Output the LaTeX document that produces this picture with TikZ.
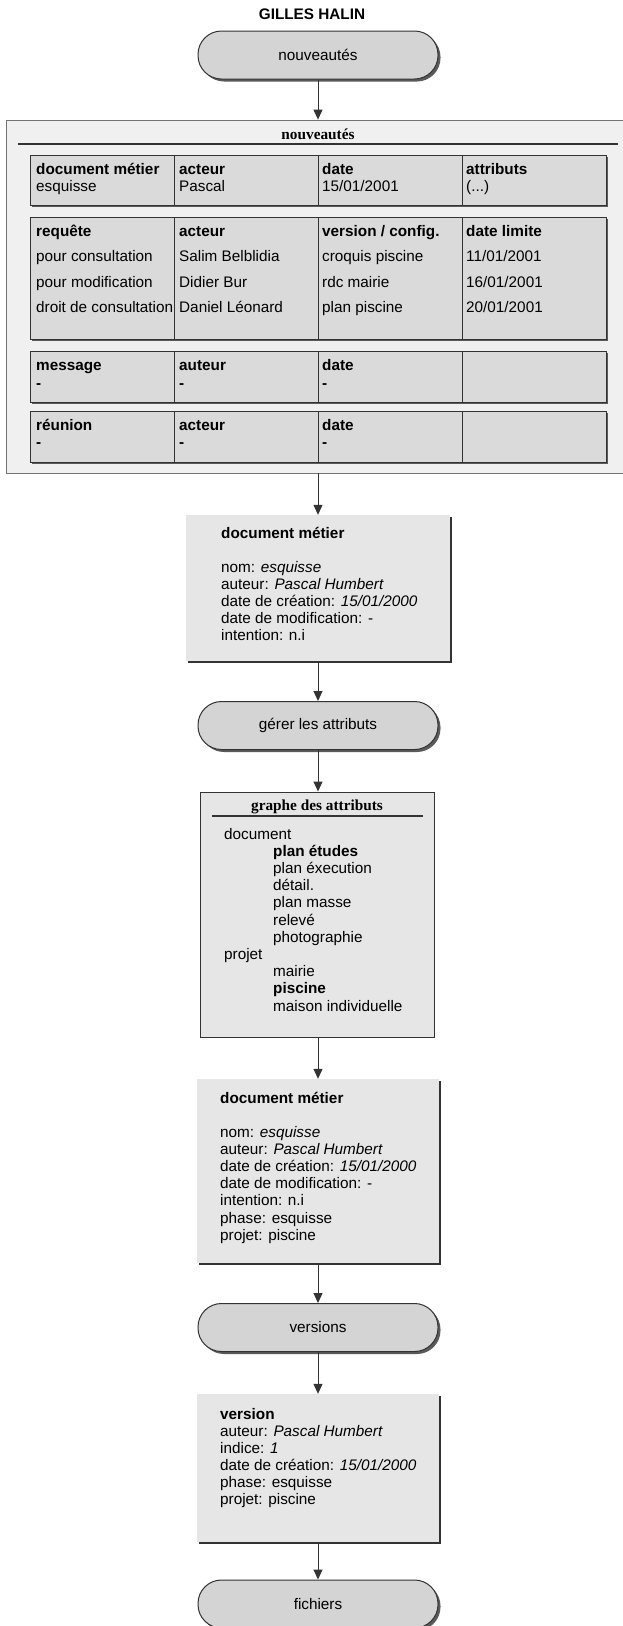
\documentclass[tikz,border=0pt]{standalone}
\usepackage{fontspec}
\setmainfont{Liberation Sans}
\newfontfamily\hdfont{Liberation Serif}
\usetikzlibrary{arrows.meta,shadows}
\definecolor{termfill}{HTML}{D4D4D4}
\definecolor{boxfill}{HTML}{E6E6E6}
\definecolor{bigfill}{HTML}{F0F0F0}
\definecolor{cellfill}{HTML}{DADADA}
\definecolor{edge}{HTML}{333333}
\definecolor{shade}{HTML}{5A5A5A}
\tikzset{
 txt/.style={font=\fontsize{15.3}{17}\selectfont, anchor=base west, inner sep=0pt},
 btxt/.style={font=\fontsize{15.3}{17}\selectfont\bfseries, anchor=base west, inner sep=0pt},
 term/.style={draw=edge, line width=1pt, fill=termfill, rounded corners=23.5pt,
   minimum width=240pt, minimum height=48pt, inner sep=0pt, font=\fontsize{15.3}{17}\selectfont,
   drop shadow={shadow xshift=2.5pt, shadow yshift=-2.5pt, fill=shade, opacity=1}},
 docbox/.style={fill=boxfill, inner sep=0pt, minimum width=242pt,
   drop shadow={shadow xshift=1.5pt, shadow yshift=-1.5pt, fill=edge, opacity=1}},
 cellbox/.style={draw=edge, line width=1pt, fill=cellfill, inner sep=0pt, minimum width=144pt,
   drop shadow={shadow xshift=2pt, shadow yshift=-2pt, fill=shade, opacity=1}},
 arr/.style={draw=edge, line width=1pt, -{Triangle[length=10pt,width=9pt]}},
 hdline/.style={draw=edge, line width=1.2pt},
}
\begin{document}
\begin{tikzpicture}[x=1pt,y=-1pt]
\useasboundingbox (0,0) rectangle (622,1626);
\fill[white] (0,0) rectangle (622,1626);

% title
\node[font=\fontsize{15.3}{17}\selectfont\bfseries, anchor=base, inner sep=0pt] (title) at (312,19) {GILLES HALIN};

% terminal 1
\node[term] (t1) at (318,55) {nouveautés};

% big box
\node[draw=black!55, line width=0.8pt, fill=bigfill, minimum width=618pt, minimum height=353pt, inner sep=0pt] (big) at (315,296.5) {};
\node[font=\hdfont\bfseries\fontsize{15.3}{17}\selectfont, anchor=base, inner sep=0pt] (bighd) at (318,139) {nouveautés};
\coordinate (ulA) at (18,144);
\coordinate (ulB) at (618,144);
\draw[hdline] (ulA) -- (ulB);

% table cells
\foreach \r/\cy/\h in {1/180/50, 2/278/122, 3/376.5/51, 4/436.5/51}{
  \foreach \c/\cx in {1/102, 2/246, 3/390, 4/534}{
    \node[cellbox, minimum height={\h pt}] (c\r\c) at (\cx,\cy) {};
  }
}

% table 1 text
\node[btxt] (a11) at (36,174) {document métier};
\node[txt]  (a12) at (36,191.5) {esquisse};
\node[btxt] (a21) at (179,174) {acteur};
\node[txt]  (a22) at (179,191.5) {Pascal};
\node[btxt] (a31) at (322,174) {date};
\node[txt]  (a32) at (322,191.5) {15/01/2001};
\node[btxt] (a41) at (466,174) {attributs};
\node[txt]  (a42) at (466,191.5) {(...)};

% table 2 text
\node[btxt] (b11) at (36,236) {requête};
\node[txt]  (b12) at (36,261.5) {pour consultation};
\node[txt]  (b13) at (36,287.5) {pour modification};
\node[txt]  (b14) at (36,312.5) {droit de consultation};
\node[btxt] (b21) at (179,236) {acteur};
\node[txt]  (b22) at (179,261.5) {Salim Belblidia};
\node[txt]  (b23) at (179,287.5) {Didier Bur};
\node[txt]  (b24) at (179,312.5) {Daniel Léonard};
\node[btxt] (b31) at (322,236) {version / config.};
\node[txt]  (b32) at (322,261.5) {croquis piscine};
\node[txt]  (b33) at (322,287.5) {rdc mairie};
\node[txt]  (b34) at (322,312.5) {plan piscine};
\node[btxt] (b41) at (466,236) {date limite};
\node[txt]  (b42) at (466,261.5) {11/01/2001};
\node[txt]  (b43) at (466,287.5) {16/01/2001};
\node[txt]  (b44) at (466,312.5) {20/01/2001};

% table 3 text
\node[btxt] (m11) at (36,370.5) {message};
\node[btxt] (m12) at (36,388) {-};
\node[btxt] (m21) at (179,370.5) {auteur};
\node[btxt] (m22) at (179,388) {-};
\node[btxt] (m31) at (322,370.5) {date};
\node[btxt] (m32) at (322,388) {-};

% table 4 text
\node[btxt] (r11) at (36,430) {réunion};
\node[btxt] (r12) at (36,447.5) {-};
\node[btxt] (r21) at (179,430) {acteur};
\node[btxt] (r22) at (179,447.5) {-};
\node[btxt] (r31) at (322,430) {date};
\node[btxt] (r32) at (322,447.5) {-};

% document metier 1
\node[docbox, minimum width=264pt, minimum height=146pt] (doc1) at (318,588) {};
\node[btxt] (d1a) at (221,538) {document métier};
\node[txt] (d1b) at (221,572) {nom: \textit{esquisse}};
\node[txt] (d1c) at (221,589.2) {auteur: \textit{Pascal Humbert}};
\node[txt] (d1d) at (221,606.4) {date de création: \textit{15/01/2000}};
\node[txt] (d1e) at (221,623.6) {date de modification: -};
\node[txt] (d1f) at (221,640.8) {intention: n.i};

% terminal 2
\node[term] (t2) at (318,725.5) {gérer les attributs};

% graphe des attributs
\node[draw=edge, line width=1pt, fill=boxfill, minimum width=234pt, minimum height=245pt, inner sep=0pt] (graphe) at (317,914.5) {};
\node[font=\hdfont\bfseries\fontsize{15.3}{17}\selectfont, anchor=base, inner sep=0pt] (grhd) at (317,810) {graphe des attributs};
\coordinate (gulA) at (212,816);
\coordinate (gulB) at (423,816);
\draw[hdline] (gulA) -- (gulB);
\node[txt]  (g1) at (224,839) {document};
\node[btxt] (g2) at (273,856.2) {plan études};
\node[txt]  (g3) at (273,873.4) {plan éxecution};
\node[txt]  (g4) at (273,890.6) {détail.};
\node[txt]  (g5) at (273,907.8) {plan masse};
\node[txt]  (g6) at (273,925) {relevé};
\node[txt]  (g7) at (273,942.2) {photographie};
\node[txt]  (g8) at (224,959.4) {projet};
\node[txt]  (g9) at (273,976.6) {mairie};
\node[btxt] (g10) at (273,993.8) {piscine};
\node[txt]  (g11) at (273,1011) {maison individuelle};

% document metier 2
\node[docbox, minimum height=184pt] (doc2) at (318,1171) {};
\node[btxt] (d2a) at (220,1103) {document métier};
\node[txt] (d2b) at (220,1137) {nom: \textit{esquisse}};
\node[txt] (d2c) at (220,1154.2) {auteur: \textit{Pascal Humbert}};
\node[txt] (d2d) at (220,1171.4) {date de création: \textit{15/01/2000}};
\node[txt] (d2e) at (220,1188.6) {date de modification: -};
\node[txt] (d2f) at (220,1205.8) {intention: n.i};
\node[txt] (d2g) at (220,1223) {phase: esquisse};
\node[txt] (d2h) at (220,1240.2) {projet: piscine};

% terminal 3
\node[term] (t3) at (318,1327.5) {versions};

% version box
\node[docbox, minimum height=148pt] (ver) at (318,1468) {};
\node[btxt] (v1) at (220,1419) {version};
\node[txt] (v2) at (220,1436) {auteur: \textit{Pascal Humbert}};
\node[txt] (v3) at (220,1453.2) {indice: \textit{1}};
\node[txt] (v4) at (220,1470.4) {date de création: \textit{15/01/2000}};
\node[txt] (v5) at (220,1487.6) {phase: esquisse};
\node[txt] (v6) at (220,1504.8) {projet: piscine};

% terminal 4
\node[term] (t4) at (318,1604) {fichiers};

% connectors
\draw[arr] (t1.south) -- (t1.south |- big.north);
\draw[arr] (t1.south |- big.south) -- (doc1.north);
\draw[arr] (doc1.south) -- (t2.north);
\draw[arr] (t2.south) -- (t2.south |- graphe.north);
\draw[arr] (t2.south |- graphe.south) -- (doc2.north);
\draw[arr] (doc2.south) -- (t3.north);
\draw[arr] (t3.south) -- (ver.north);
\draw[arr] (ver.south) -- (t4.north);
\end{tikzpicture}
\end{document}
